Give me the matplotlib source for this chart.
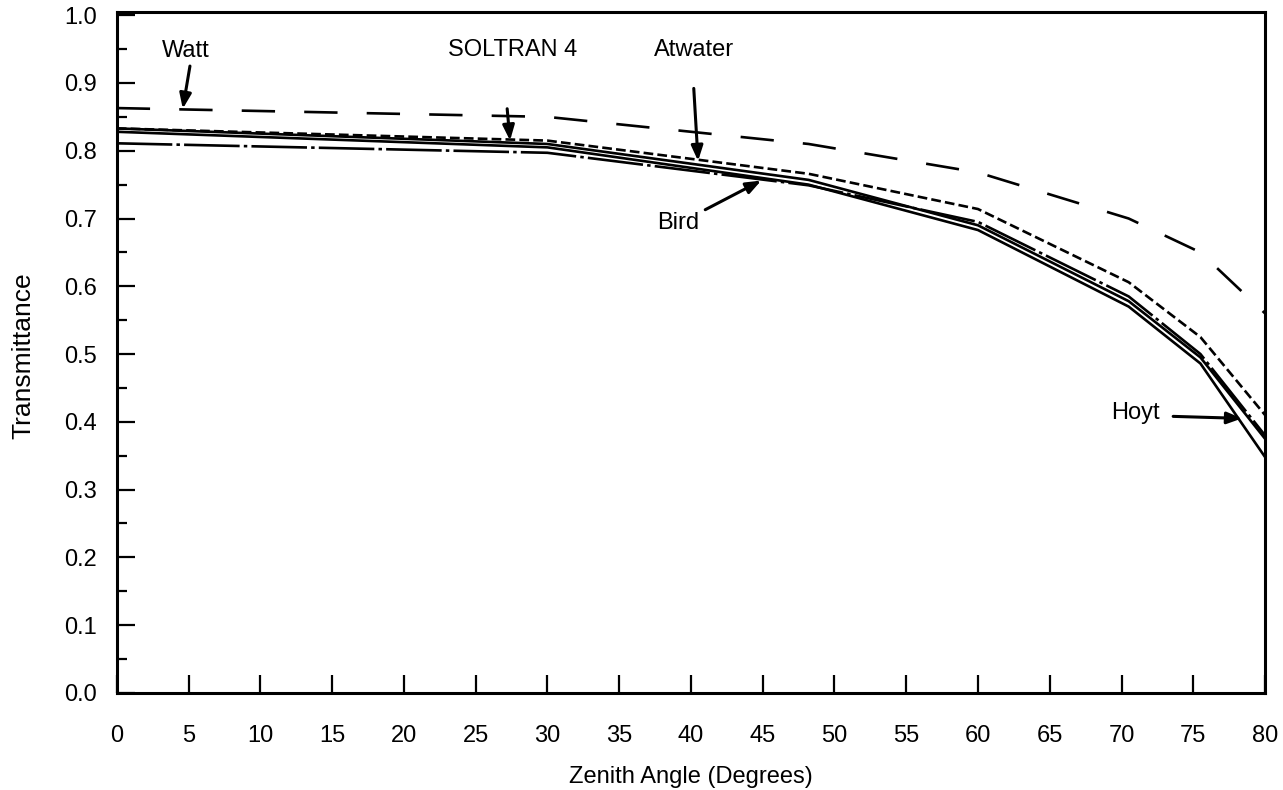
import matplotlib
matplotlib.use("Agg")
import matplotlib.pyplot as plt
from matplotlib.ticker import MultipleLocator

plt.rcParams['font.family'] = ['Liberation Sans', 'DejaVu Sans']
plt.rcParams['lines.scale_dashes'] = False

# Data (zenith angle in degrees, transmittance)
zenith = [0, 30, 48.2, 60, 70.5, 75.5, 80]
watt = [0.863, 0.850, 0.810, 0.768, 0.700, 0.650, 0.560]
atwater = [0.833, 0.815, 0.766, 0.714, 0.606, 0.525, 0.410]
soltran = [0.833, 0.810, 0.757, 0.690, 0.578, 0.495, 0.375]
bird = [0.811, 0.797, 0.749, 0.695, 0.585, 0.500, 0.380]
hoyt = [0.828, 0.805, 0.750, 0.683, 0.570, 0.486, 0.348]

x_ticks = list(range(0, 81, 5))
y_ticks = [round(0.1 * i, 1) for i in range(11)]

fig = plt.figure(figsize=(12.83, 7.90), dpi=100)
ax = fig.add_axes([0.091, 0.123, 0.895, 0.862])

lw = 1.9
ax.plot(zenith, watt, color='black', lw=lw, linestyle=(0, (24, 21)))
ax.plot(zenith, atwater, color='black', lw=lw, linestyle=(0, (7, 3)))
ax.plot(zenith, soltran, color='black', lw=lw, linestyle='-')
ax.plot(zenith, bird, color='black', lw=lw, linestyle=(0, (40, 3, 2.5, 3)))
ax.plot(zenith, hoyt, color='black', lw=lw, linestyle='-')

ax.set_xlim(0, 80)
ax.set_ylim(0, 1.005)
ax.set_xticks(x_ticks)
ax.set_xticklabels([str(v) for v in x_ticks])
ax.set_yticks(y_ticks)
ax.set_yticklabels([f"{v:.1f}" for v in y_ticks])
ax.yaxis.set_minor_locator(MultipleLocator(0.05))

for s in ax.spines.values():
    s.set_linewidth(2.2)
    s.set_color('black')

ax.tick_params(axis='x', which='major', direction='in', length=13, width=1.6,
               labelsize=17, pad=23, top=False)
ax.tick_params(axis='y', which='major', direction='in', length=13, width=1.6,
               labelsize=17, pad=14, right=False)
ax.tick_params(axis='y', which='minor', direction='in', length=7, width=1.6, right=False)

ax.set_xlabel('Zenith Angle (Degrees)', fontsize=17, labelpad=14)
ax.set_ylabel('Transmittance', fontsize=19)
ax.yaxis.set_label_coords(-0.071, 0.495)

arrow = dict(arrowstyle='-|>,head_length=0.9,head_width=0.35', color='black', lw=2.2,
             shrinkA=0, shrinkB=0)
fs = 17
ax.annotate('', xy=(4.6, 0.862), xytext=(5.1, 0.925), arrowprops=arrow)
ax.text(4.8, 0.947, 'Watt', fontsize=fs, ha='center', va='center')

ax.annotate('', xy=(27.4, 0.815), xytext=(27.2, 0.862), arrowprops=arrow)
ax.text(27.6, 0.948, 'SOLTRAN 4', fontsize=fs, ha='center', va='center')

ax.annotate('', xy=(40.5, 0.785), xytext=(40.2, 0.892), arrowprops=arrow)
ax.text(40.2, 0.948, 'Atwater', fontsize=fs, ha='center', va='center')

ax.annotate('', xy=(44.9, 0.756), xytext=(41.0, 0.713), arrowprops=arrow)
ax.text(39.1, 0.693, 'Bird', fontsize=fs, ha='center', va='center')

ax.annotate('', xy=(78.4, 0.405), xytext=(73.6, 0.408), arrowprops=arrow)
ax.text(71.0, 0.4125, 'Hoyt', fontsize=fs, ha='center', va='center')

fig.savefig('out.png', dpi=100, facecolor='white')
